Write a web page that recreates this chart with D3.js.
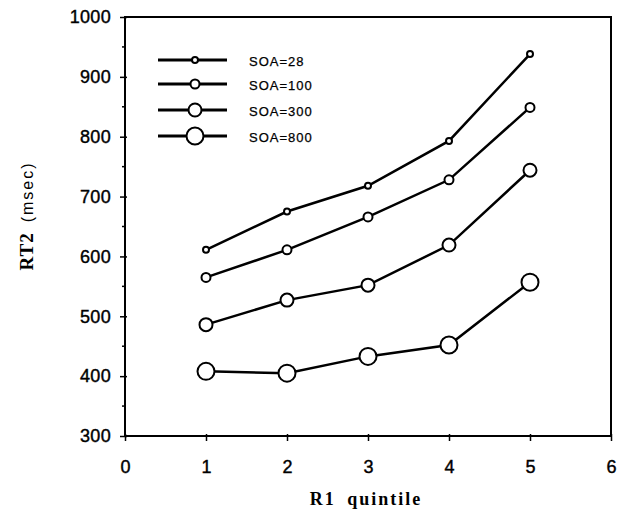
<!DOCTYPE html>
<html><head><meta charset="utf-8">
<script src="https://cdn.jsdelivr.net/npm/d3@7"></script>
<style>body{margin:0;background:#fff}svg{display:block}</style>
</head><body>
<script>
const quintiles = [1, 2, 3, 4, 5];
const soaLabels = ["SOA=28", "SOA=100", "SOA=300", "SOA=800"];
const soa28 = [611, 675, 718, 793, 938];
const soa100 = [565, 611, 666, 728, 849];
const soa300 = [486, 527, 552, 619, 744];
const soa800 = [408, 405, 433, 452, 557];
const xTicks = [0, 1, 2, 3, 4, 5, 6];
const yTicks = [300, 400, 500, 600, 700, 800, 900, 1000];

const series = [soa28, soa100, soa300, soa800];
const radii = [3, 4.5, 6.5, 8.5];

const W = 621, H = 514;
const svg = d3.select("body").append("svg").attr("width", W).attr("height", H);
const x = d3.scaleLinear().domain([0, 6]).range([125, 611]);
const y = d3.scaleLinear().domain([300, 1000]).range([436, 17]);
const sans = "Liberation Sans, Arial, sans-serif";
const serif = "Liberation Serif, Times New Roman, serif";

// frame
svg.append("rect").attr("x", x(0)).attr("y", y(1000)).attr("width", x(6) - x(0)).attr("height", y(300) - y(1000))
  .attr("fill", "none").attr("stroke", "#000").attr("stroke-width", 2);

// y axis
const yAx = svg.append("g").attr("transform", `translate(${x(0)},0)`)
  .call(d3.axisLeft(y).tickValues(yTicks).tickFormat(d3.format("d")).tickSize(6));
yAx.select(".domain").remove();
yAx.selectAll("line").attr("stroke-width", 1.5).attr("x2", -5).attr("x1", 2);
yAx.selectAll("text").attr("font-family", sans).attr("font-size", 18).attr("letter-spacing", 0.3)
  .attr("fill", "#000").attr("stroke", "#000").attr("stroke-width", 0.4).attr("x", -14);
// minor y ticks
svg.append("g").selectAll("line").data(d3.range(350, 1000, 100)).join("line")
  .attr("x1", x(0) - 3).attr("x2", x(0)).attr("y1", d => y(d)).attr("y2", d => y(d))
  .attr("stroke", "#000").attr("stroke-width", 1.5);

// x axis
const xAx = svg.append("g").attr("transform", `translate(0,${y(300)})`)
  .call(d3.axisBottom(x).tickValues(xTicks).tickFormat(d3.format("d")).tickSize(5));
xAx.select(".domain").remove();
xAx.selectAll("line").attr("stroke-width", 1.5).attr("y1", -2);
xAx.selectAll("text").attr("font-family", sans).attr("font-size", 18).attr("fill", "#000")
  .attr("stroke", "#000").attr("stroke-width", 0.4).attr("y", 37).attr("dy", 0);

// lines
const line = d3.line().x((d, i) => x(quintiles[i])).y(d => y(d));
series.forEach((s, k) => {
  svg.append("path").datum(s).attr("d", line).attr("fill", "none").attr("stroke", "#000").attr("stroke-width", 2.5);
  svg.append("g").selectAll("circle").data(s).join("circle")
    .attr("cx", (d, i) => x(quintiles[i])).attr("cy", d => y(d)).attr("r", radii[k])
    .attr("fill", "#fff").attr("stroke", "#000").attr("stroke-width", 2);
});

// legend
const lg = svg.append("g");
const rows = [60, 84, 110, 136];
soaLabels.forEach((lab, k) => {
  lg.append("line").attr("x1", 158).attr("x2", 227).attr("y1", rows[k]).attr("y2", rows[k]).attr("stroke", "#000").attr("stroke-width", 3);
  lg.append("circle").attr("cx", 195).attr("cy", rows[k]).attr("r", radii[k]).attr("fill", "#fff").attr("stroke", "#000").attr("stroke-width", 2);
  lg.append("text").attr("x", 249).attr("y", rows[k] + 5.5).text(lab)
    .attr("font-family", sans).attr("font-size", 13).attr("letter-spacing", 1).attr("fill", "#000")
    .attr("stroke", "#000").attr("stroke-width", 0.25);
});

// titles
svg.append("text").attr("x", 366).attr("y", 505).attr("text-anchor", "middle")
  .attr("font-family", serif).attr("font-weight", "bold").attr("font-size", 18)
  .attr("letter-spacing", 2).attr("word-spacing", 5).text("R1 quintile");
const yt = svg.append("text").attr("transform", "translate(33,216) rotate(-90)").attr("text-anchor", "middle");
yt.append("tspan").attr("font-family", serif).attr("font-weight", "bold").attr("font-size", 19)
  .attr("letter-spacing", 1).text("RT2");
yt.append("tspan").attr("font-family", sans).attr("font-size", 16).attr("letter-spacing", 2)
  .attr("dx", 10).text("(msec)");
</script>
</body></html>
